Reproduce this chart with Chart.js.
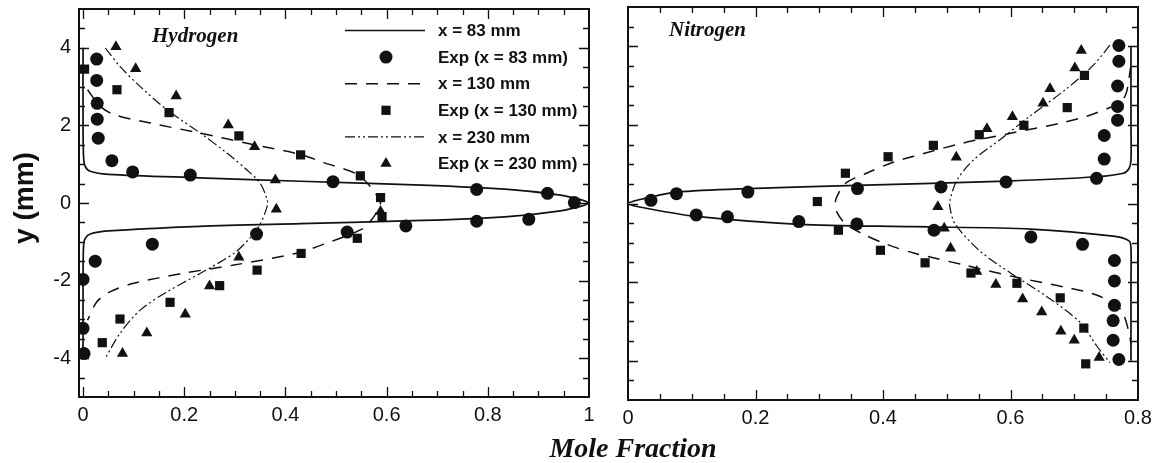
<!DOCTYPE html>
<html>
<head>
<meta charset="UTF-8">
<title>Hydrogen / Nitrogen mole fraction</title>
<script src="https://cdn.jsdelivr.net/npm/chart.js"></script>
<style>
  body { margin: 0; background: #fff; }
  .wrap { position: relative; width: 1164px; height: 463px; }
  .wrap canvas { position: absolute; left: 0; top: 0; }
</style>
</head>
<body>
<div class="wrap">
  <canvas id="h2" width="1164" height="463"></canvas>
  <canvas id="n2" width="1164" height="463"></canvas>
</div>

<script>
// ---- data: [mole fraction, y (mm)] ----
const h2Sim83 = [[0,4],[0,2],[0.001,1.2],[0.004,0.95],[0.014,0.82],[0.05,0.74],[0.23,0.65],[0.43,0.56],[0.67,0.46],[0.84,0.35],[0.94,0.21],[0.985,0.08],[0.998,0],[0.985,-0.08],[0.94,-0.21],[0.84,-0.35],[0.67,-0.45],[0.43,-0.53],[0.23,-0.6],[0.05,-0.72],[0.014,-0.8],[0.004,-0.92],[0.001,-1.1],[0,-2],[0,-4]];
const h2Exp83 = [[0.027,3.71],[0.027,3.16],[0.028,2.57],[0.028,2.16],[0.03,1.67],[0.057,1.09],[0.098,0.80],[0.212,0.72],[0.494,0.55],[0.778,0.35],[0.918,0.25],[0.971,0.01],[0.881,-0.42],[0.778,-0.47],[0.638,-0.59],[0.522,-0.75],[0.343,-0.80],[0.137,-1.06],[0.024,-1.50],[0,-1.97],[0,-3.23],[0.002,-3.88]];
const h2Sim130 = [[0.009,2.92],[0.034,2.49],[0.063,2.27],[0.133,2.06],[0.232,1.80],[0.331,1.52],[0.43,1.25],[0.476,1.04],[0.542,0.74],[0.568,0.42],[0.585,0.1],[0.588,0],[0.585,-0.12],[0.572,-0.4],[0.55,-0.68],[0.476,-1.06],[0.42,-1.3],[0.298,-1.6],[0.199,-1.81],[0.10,-2.07],[0.053,-2.29],[0.027,-2.55],[0.009,-3.02]];
const h2Exp130 = [[0.003,3.45],[0.067,2.92],[0.170,2.33],[0.308,1.73],[0.430,1.24],[0.548,0.70],[0.588,0.14],[0.591,-0.35],[0.542,-0.91],[0.431,-1.30],[0.344,-1.73],[0.270,-2.13],[0.172,-2.56],[0.073,-2.99],[0.038,-3.60]];
const h2Sim230 = [[0.044,3.99],[0.073,3.52],[0.113,3.0],[0.166,2.40],[0.232,1.80],[0.285,1.28],[0.324,0.85],[0.350,0.51],[0.364,0.08],[0.364,-0.08],[0.35,-0.55],[0.33,-0.9],[0.298,-1.30],[0.232,-1.81],[0.166,-2.29],[0.113,-2.76],[0.073,-3.36],[0.044,-4.0]];
const h2Exp230 = [[0.065,4.03],[0.104,3.46],[0.184,2.76],[0.287,2.01],[0.339,1.45],[0.380,0.59],[0.382,-0.16],[0.588,-0.22],[0.308,-1.40],[0.250,-2.14],[0.202,-2.87],[0.126,-3.35],[0.078,-3.88]];

const n2Sim83 = [[0.789,4],[0.789,2],[0.789,1.11],[0.786,0.89],[0.777,0.77],[0.735,0.68],[0.593,0.57],[0.359,0.46],[0.188,0.38],[0.076,0.29],[0.035,0.16],[0,0],[0.035,-0.14],[0.107,-0.33],[0.268,-0.53],[0.45,-0.59],[0.632,-0.65],[0.761,-0.83],[0.786,-0.95],[0.789,-1.13],[0.789,-2],[0.789,-4]];
const n2Exp83 = [[0.036,0.08],[0.076,0.25],[0.188,0.29],[0.360,0.38],[0.491,0.42],[0.593,0.55],[0.735,0.64],[0.747,1.13],[0.747,1.73],[0.768,2.12],[0.768,2.47],[0.768,2.99],[0.770,3.62],[0.770,4.02],[0.107,-0.29],[0.156,-0.34],[0.268,-0.46],[0.359,-0.52],[0.480,-0.68],[0.632,-0.85],[0.713,-1.04],[0.763,-1.45],[0.763,-1.97],[0.763,-2.59],[0.761,-2.98],[0.761,-3.48],[0.770,-3.97]];
const n2Sim130 = [[0.789,3.5],[0.777,2.66],[0.735,2.31],[0.683,2.06],[0.604,1.80],[0.526,1.54],[0.448,1.2],[0.416,1.05],[0.374,0.77],[0.340,0.5],[0.327,0.15],[0.325,0],[0.327,-0.2],[0.34,-0.5],[0.369,-0.78],[0.406,-1.04],[0.448,-1.26],[0.526,-1.56],[0.604,-1.86],[0.683,-2.12],[0.735,-2.33],[0.772,-2.68],[0.786,-3.28],[0.789,-3.6]];
const n2Exp130 = [[0.297,0.05],[0.341,0.77],[0.408,1.19],[0.479,1.48],[0.551,1.75],[0.621,1.99],[0.689,2.44],[0.716,3.26],[0.330,-0.68],[0.396,-1.19],[0.466,-1.51],[0.538,-1.77],[0.610,-2.03],[0.678,-2.40],[0.715,-3.17],[0.718,-4.08]];
const n2Sim230 = [[0.756,4.03],[0.730,3.52],[0.688,2.92],[0.631,2.23],[0.584,1.63],[0.542,1.11],[0.516,0.59],[0.505,0.08],[0.505,-0.1],[0.513,-0.52],[0.552,-1.21],[0.604,-1.81],[0.657,-2.37],[0.709,-3.02],[0.735,-3.62],[0.756,-4.05]];
const n2Exp230 = [[0.515,1.18],[0.563,1.90],[0.603,2.21],[0.651,2.55],[0.662,2.92],[0.701,3.45],[0.711,3.89],[0.486,-0.08],[0.496,-0.63],[0.506,-1.14],[0.547,-1.73],[0.577,-2.06],[0.619,-2.43],[0.649,-2.76],[0.679,-3.25],[0.700,-3.48],[0.739,-3.92]];

const seriesLabels = ['x = 83 mm', 'Exp (x = 83 mm)', 'x = 130 mm', 'Exp (x = 130 mm)', 'x = 230 mm', 'Exp (x = 230 mm)'];

// ticks
const h2XLabels = [0, 0.2, 0.4, 0.6, 0.8, 1];
const n2XLabels = [0, 0.2, 0.4, 0.6, 0.8];
const yLabels = [-4, -2, 0, 2, 4];
const yMinor = [-4.5,-4,-3.5,-3,-2.5,-2,-1.5,-1,-0.5,0,0.5,1,1.5,2,2.5,3,3.5,4,4.5];
const h2XMinor = [0,0.05,0.1,0.15,0.2,0.25,0.3,0.35,0.4,0.45,0.5,0.55,0.6,0.65,0.7,0.75,0.8,0.85,0.9,0.95];
const n2XMinor = [0.05,0.1,0.15,0.2,0.25,0.3,0.35,0.4,0.45,0.5,0.55,0.6,0.65,0.7,0.75];

const INK = '#111';
const SANS = "'Liberation Sans', Arial, sans-serif";
const SERIF = "'Liberation Serif', 'Times New Roman', serif";

function pts(arr) { return arr.map(([x, y]) => ({ x, y })); }

function datasets(s83, e83, s130, e130, s230, e230) {
  const line = (d, dash, w) => ({ data: pts(d), showLine: true, borderColor: INK, borderWidth: w,
    borderDash: dash, pointRadius: 0, tension: 0.3, fill: false });
  const mark = (d, style) => ({ data: pts(d), showLine: false, pointStyle: style, pointRadius: 6.5,
    backgroundColor: INK, borderColor: INK, borderWidth: 0 });
  const list = [
    line(s83, [], 1.7), mark(e83, 'circle'),
    line(s130, [12, 9], 1.5), mark(e130, 'rect'),
    line(s230, [10, 3, 2, 3, 2, 3], 1.2), mark(e230, 'triangle')
  ];
  list.forEach((d, i) => d.label = seriesLabels[i]);
  return list;
}

// frame + inward ticks on all four sides
const framePlugin = {
  id: 'frame',
  afterDatasetsDraw(chart, args, o) {
    const { ctx, chartArea: a, scales: { x, y } } = chart;
    ctx.save();
    ctx.strokeStyle = INK;
    ctx.lineWidth = 1.3;
    ctx.beginPath();
    o.xMinor.forEach(v => {
      const p = Math.round(x.getPixelForValue(v)) + 0.5;
      const len = o.xMajor.includes(v) ? 10 : 6;
      ctx.moveTo(p, a.bottom); ctx.lineTo(p, a.bottom - len);
      ctx.moveTo(p, a.top); ctx.lineTo(p, a.top + len);
    });
    o.yMinor.forEach(v => {
      const p = Math.round(y.getPixelForValue(v)) + 0.5;
      const len = o.yMajor.includes(v) ? 10 : 6;
      ctx.moveTo(a.left, p); ctx.lineTo(a.left + len, p);
      ctx.moveTo(a.right, p); ctx.lineTo(a.right - len, p);
    });
    ctx.stroke();
    ctx.lineWidth = 2;
    ctx.strokeRect(a.left, a.top, a.right - a.left, a.bottom - a.top);
    ctx.restore();
  }
};

// panel titles, axis titles and the legend
const textPlugin = {
  id: 'texts',
  afterDraw(chart, args, o) {
    const { ctx } = chart;
    ctx.save();
    ctx.fillStyle = INK;
    ctx.textBaseline = 'alphabetic';
    ctx.font = `bold italic 21px ${SERIF}`;
    ctx.fillText(o.title, o.titleX, o.titleY);
    if (o.legend) {
      ctx.font = `bold 28px ${SANS}`;
      ctx.save();
      ctx.translate(33, 198);
      ctx.rotate(-Math.PI / 2);
      ctx.textAlign = 'center';
      ctx.fillText('y (mm)', 0, 0);
      ctx.restore();

      ctx.font = `bold italic 28px ${SERIF}`;
      ctx.textAlign = 'center';
      ctx.fillText('Mole Fraction', 633, 457);

      ctx.textAlign = 'left';
      ctx.textBaseline = 'middle';
      ctx.font = `bold 17px ${SANS}`;
      chart.data.datasets.forEach((d, i) => {
        const yy = 30.5 + i * 26.6;
        ctx.strokeStyle = INK;
        ctx.fillStyle = INK;
        if (d.showLine) {
          ctx.lineWidth = d.borderWidth;
          ctx.setLineDash(d.borderDash);
          ctx.beginPath(); ctx.moveTo(345, yy); ctx.lineTo(425, yy); ctx.stroke();
          ctx.setLineDash([]);
        } else {
          const cx = 386, r = d.pointRadius;
          ctx.beginPath();
          if (d.pointStyle === 'circle') ctx.arc(cx, yy, r, 0, Math.PI * 2);
          else if (d.pointStyle === 'rect') { const s = r * Math.SQRT1_2; ctx.rect(cx - s, yy - s, 2 * s, 2 * s); }
          else { ctx.moveTo(cx, yy - r); ctx.lineTo(cx + r * 0.866, yy + r / 2); ctx.lineTo(cx - r * 0.866, yy + r / 2); ctx.closePath(); }
          ctx.fill();
        }
        ctx.fillText(d.label, 438, yy + 1);
      });
    }
    ctx.restore();
  }
};

function fmt(v) { return (v === 0 || v === 1) ? String(v) : v.toFixed(1); }

const Y_W = 40, X_H = 40;

function makeChart(id, ds, area, xr, xLabels, xMinor, showY, texts) {
  return new Chart(document.getElementById(id), {
    type: 'scatter',
    data: { datasets: ds },
    options: {
      responsive: false,
      animation: false,
      layout: { padding: { left: area.l - Y_W, top: area.t, right: 1164 - area.r, bottom: 463 - area.b - X_H } },
      plugins: {
        legend: { display: false },
        tooltip: { enabled: false },
        frame: { xMajor: xLabels, xMinor: xMinor, yMajor: yLabels, yMinor: yMinor },
        texts: texts
      },
      scales: {
        x: {
          type: 'linear', min: xr[0], max: xr[1],
          grid: { display: false, drawTicks: false }, border: { display: false },
          afterFit: s => { s.height = X_H; s.paddingLeft = 0; s.paddingRight = 0; },
          afterBuildTicks: s => { s.ticks = xLabels.map(v => ({ value: v })); },
          ticks: { padding: 6, autoSkip: false, maxRotation: 0, color: INK,
            font: { family: SANS, size: 20 }, callback: v => fmt(v) }
        },
        y: {
          type: 'linear', min: -5, max: 5,
          grid: { display: false, drawTicks: false }, border: { display: false },
          afterFit: s => { s.width = Y_W; s.paddingTop = 0; s.paddingBottom = 0; },
          afterBuildTicks: s => { s.ticks = yLabels.map(v => ({ value: v })); },
          ticks: { display: showY, padding: 8, autoSkip: false, color: INK,
            font: { family: SANS, size: 20 }, callback: v => String(v) }
        }
      }
    },
    plugins: [framePlugin, textPlugin]
  });
}

makeChart('h2', datasets(h2Sim83, h2Exp83, h2Sim130, h2Exp130, h2Sim230, h2Exp230),
  { l: 79, r: 589, t: 9, b: 397 }, [-0.008, 1.0], h2XLabels, h2XMinor, true,
  { title: 'Hydrogen', titleX: 152, titleY: 42, legend: true });

makeChart('n2', datasets(n2Sim83, n2Exp83, n2Sim130, n2Exp130, n2Sim230, n2Exp230),
  { l: 628, r: 1138, t: 7, b: 400 }, [0, 0.8], n2XLabels, n2XMinor, false,
  { title: 'Nitrogen', titleX: 669, titleY: 36, legend: false });
</script>
</body>
</html>
